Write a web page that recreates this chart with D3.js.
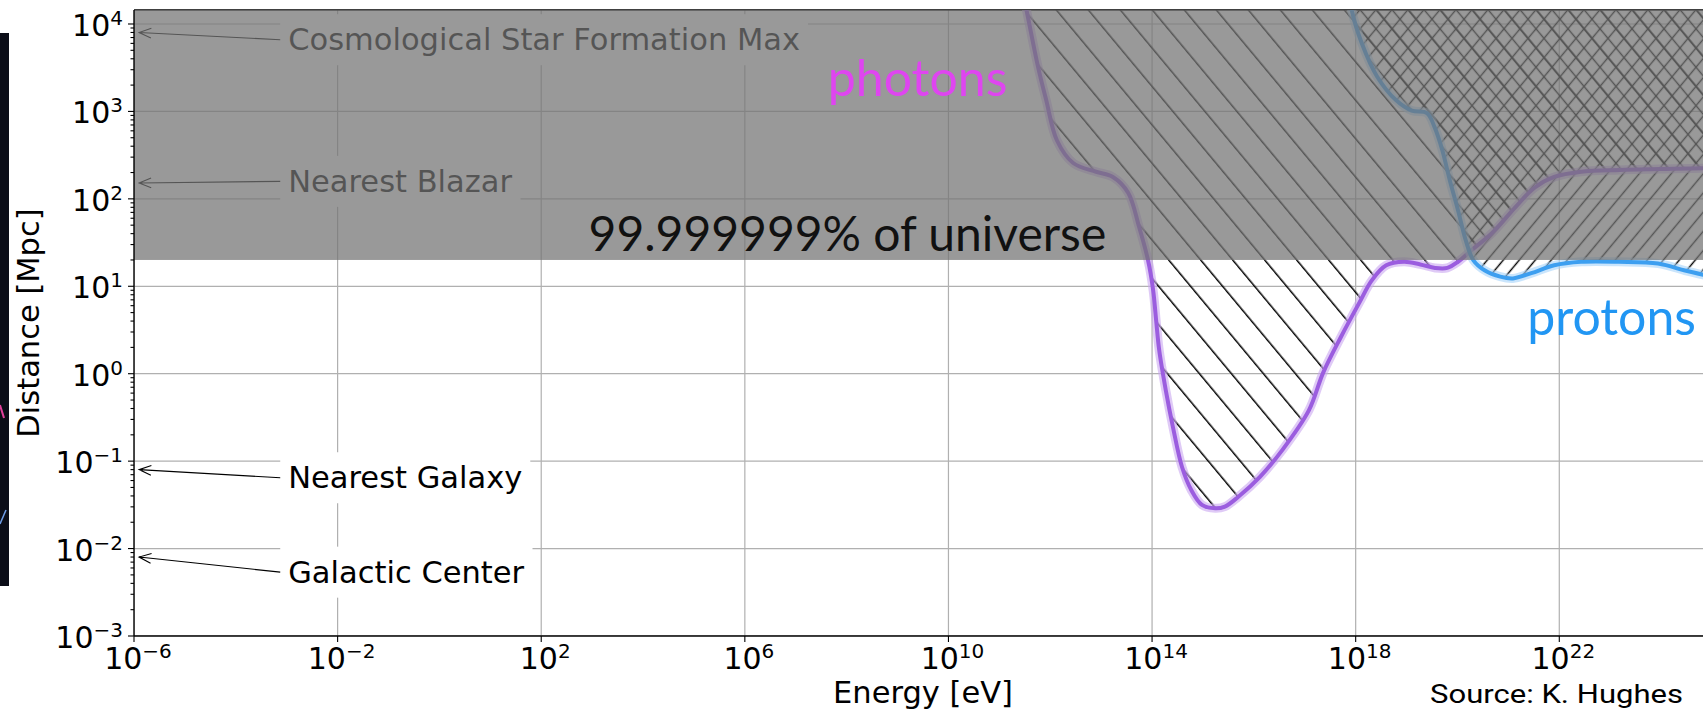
<!DOCTYPE html>
<html>
<head>
<meta charset="utf-8">
<script src="https://d3js.org/d3.v7.min.js"></script>
<style>
  body { margin: 0; background: #fff; }
  svg { display: block; }
  .mpl { font-family: "DejaVu Sans", sans-serif; }
  .slide { font-family: Lato, "Open Sans", sans-serif; }
</style>
</head>
<body>
<svg id="chart" width="1703" height="712"></svg>
<script>
// tick positions, as powers of ten
var xTickExp = [-6, -2, 2, 6, 10, 14, 18, 22, 26];
var yTickExp = [-3, -2, -1, 0, 1, 2, 3, 4];

// photon horizon: log10(E / eV) and log10(D / Mpc)
var photonLogE = [11.41, 11.54, 11.76, 11.92, 12.13, 12.45, 12.90, 13.23, 13.53, 13.74, 13.92, 14.02, 14.08, 14.14,
                  14.27, 14.41, 14.59, 14.77, 14.98, 15.24, 15.43, 15.69, 16.12, 16.55, 17.08, 17.36, 17.71, 18.07,
                  18.32, 18.60, 18.95, 19.27, 19.56, 19.80, 20.01, 20.27, 20.68, 21.13, 21.52, 21.90, 22.43, 23.19,
                  23.98, 24.83, 25.50];
var photonLogD = [4.50, 4.14, 3.51, 3.13, 2.67, 2.41, 2.31, 2.25, 2.07, 1.69, 1.30, 0.96, 0.61, 0.27,
                  -0.19, -0.61, -1.07, -1.33, -1.50, -1.54, -1.52, -1.41, -1.18, -0.88, -0.42, 0.01, 0.42, 0.81,
                  1.07, 1.24, 1.28, 1.25, 1.21, 1.21, 1.28, 1.41, 1.61, 1.90, 2.13, 2.25, 2.31, 2.33,
                  2.34, 2.35, 2.35];

// proton horizon
var protonLogE = [17.85, 17.93, 18.12, 18.42, 18.79, 19.10, 19.40, 19.55, 19.70, 19.85, 20.01, 20.16, 20.31, 20.54,
                  20.84, 21.09, 21.45, 21.90, 22.43, 23.17, 23.94, 24.47, 24.83, 25.50];
var protonLogD = [4.50, 4.14, 3.78, 3.40, 3.13, 3.01, 2.98, 2.82, 2.56, 2.21, 1.87, 1.53, 1.30, 1.18,
                  1.11, 1.09, 1.15, 1.24, 1.28, 1.28, 1.26, 1.18, 1.13, 1.01];

// shaded part of the universe starts here (Mpc)
var bandMinDistance = 20;

// reference distances marked with arrows
var markLabels = ["Cosmological Star Formation Max", "Nearest Blazar", "Nearest Galaxy", "Galactic Center"];
var markDistance = [8000, 152, 0.08, 0.008];
var markTextLogD = [3.70, 2.08, -1.31, -2.39];
var markTextLogE = -2.97;
var markArrowLogE = -5.9;

var svg = d3.select("#chart");
var defs = svg.append("defs");

var x = d3.scaleLog().domain([1e-6, 1e25]).range([134, 1712]);
var y = d3.scaleLog().domain([1e-3, Math.pow(10, 4.16)]).range([636, 10]);
var plotL = x.range()[0], plotR = x.range()[1];
var plotT = y.range()[1], plotB = y.range()[0];

function pts(le, ld) {
    return le.map(function(e, i) { return {e: Math.pow(10, e), d: Math.pow(10, ld[i])}; });
}
var photons = pts(photonLogE, photonLogD);
var protons = pts(protonLogE, protonLogD);

// strip of the neighbouring slide image at the far left
svg.append("rect").attr("x", 0).attr("y", 33).attr("width", 9).attr("height", 553).attr("fill", "#0b0d18");
svg.append("line").attr("x1", 0).attr("x2", 4).attr("y1", 405).attr("y2", 418)
    .attr("stroke", "#e0409a").attr("stroke-width", 2);
svg.append("line").attr("x1", 0).attr("x2", 6).attr("y1", 524).attr("y2", 510)
    .attr("stroke", "#6f9ee8").attr("stroke-width", 1.5);

defs.append("clipPath").attr("id", "plotClip")
    .append("rect").attr("x", plotL).attr("y", plotT).attr("width", plotR - plotL).attr("height", plotB - plotT);

// grid
var grid = svg.append("g").attr("clip-path", "url(#plotClip)")
    .attr("stroke", "#b0b0b0").attr("stroke-width", 1.2);
xTickExp.forEach(function(e) {
    grid.append("line").attr("x1", x(Math.pow(10, e))).attr("x2", x(Math.pow(10, e)))
        .attr("y1", plotT).attr("y2", plotB);
});
yTickExp.forEach(function(e) {
    grid.append("line").attr("x1", plotL).attr("x2", plotR)
        .attr("y1", y(Math.pow(10, e))).attr("y2", y(Math.pow(10, e)));
});

// top spine sits under the shaded band
svg.append("line").attr("x1", plotL).attr("x2", plotR).attr("y1", plotT).attr("y2", plotT)
    .attr("stroke", "#000").attr("stroke-width", 1.3);

// annotations with white boxes and arrows
markLabels.forEach(function(label, i) {
    var g = svg.append("g");
    var t = g.append("text").attr("class", "mpl")
        .attr("x", x(Math.pow(10, markTextLogE))).attr("y", y(Math.pow(10, markTextLogD[i])))
        .attr("font-size", 30.5).attr("fill", "#000").text(label);
    var b = t.node().getBBox();
    var pad = 8;
    g.insert("rect", "text").attr("x", b.x - pad).attr("y", b.y - pad)
        .attr("width", b.width + 2 * pad).attr("height", b.height + 2 * pad).attr("fill", "#fff");
    var x0 = b.x - pad, y0 = b.y + b.height / 2;
    var x1 = x(Math.pow(10, markArrowLogE)), y1 = y(markDistance[i]);
    var len = Math.hypot(x0 - x1, y0 - y1), ux = (x0 - x1) / len, uy = (y0 - y1) / len;
    var a = 22 * Math.PI / 180, h = 13;
    function rot(s) {
        return [x1 + h * (ux * Math.cos(s * a) - uy * Math.sin(s * a)),
                y1 + h * (ux * Math.sin(s * a) + uy * Math.cos(s * a))];
    }
    var p1 = rot(1), p2 = rot(-1);
    g.append("path")
        .attr("d", "M" + x0 + "," + y0 + "L" + x1 + "," + y1 +
                   "M" + p1[0] + "," + p1[1] + "L" + x1 + "," + y1 + "L" + p2[0] + "," + p2[1])
        .attr("fill", "none").attr("stroke", "#000").attr("stroke-width", 1.1);
});

// hatch patterns: rotated horizontal lines
var slope = Math.atan(1.2) * 180 / Math.PI;
var hSpace = 32;
var perp = hSpace * Math.sin(Math.atan(1.2));
function hatch(id, spacing, angle) {
    var p = defs.append("pattern").attr("id", id).attr("patternUnits", "userSpaceOnUse")
        .attr("width", 40).attr("height", spacing)
        .attr("patternTransform", "rotate(" + angle + ")");
    p.append("line").attr("x1", -1).attr("x2", 41)
        .attr("y1", perp / 4).attr("y2", perp / 4)
        .attr("stroke", "#000").attr("stroke-width", 1.4);
}
hatch("backSparse", perp, slope);
hatch("backDense", perp / 2, slope);
hatch("fwdDense", perp / 2, -slope);

var curve = d3.curveCatmullRom.alpha(0.5);
var aboveArea = d3.area().x(function(d) { return x(d.e); })
    .y0(y(1e7)).y1(function(d) { return y(d.d); }).curve(curve);
var lineGen = d3.line().x(function(d) { return x(d.e); })
    .y(function(d) { return y(d.d); }).curve(curve);

defs.append("clipPath").attr("id", "photonClip").append("path").attr("d", aboveArea(photons));

var hatchG = svg.append("g").attr("clip-path", "url(#plotClip)");
hatchG.append("path").attr("d", aboveArea(photons)).attr("fill", "url(#backSparse)");
hatchG.append("path").attr("d", aboveArea(protons)).attr("fill", "url(#fwdDense)");
hatchG.append("g").attr("clip-path", "url(#photonClip)")
    .append("path").attr("d", aboveArea(protons)).attr("fill", "url(#backDense)");

// horizon curves
var curveG = svg.append("g").attr("clip-path", "url(#plotClip)").attr("fill", "none")
    .attr("stroke-linejoin", "round").attr("stroke-linecap", "round");
curveG.append("path").attr("d", lineGen(photons)).attr("stroke", "#c9a6f0").attr("stroke-width", 9).attr("opacity", 0.6);
curveG.append("path").attr("d", lineGen(photons)).attr("stroke", "#9b5ddf").attr("stroke-width", 4);
curveG.append("path").attr("d", lineGen(protons)).attr("stroke", "#a6d3fa").attr("stroke-width", 9).attr("opacity", 0.6);
curveG.append("path").attr("d", lineGen(protons)).attr("stroke", "#3d9ff0").attr("stroke-width", 4);

// grey band over the bulk of the universe
svg.append("rect").attr("x", plotL).attr("y", plotT)
    .attr("width", plotR - plotL).attr("height", y(bandMinDistance) - plotT)
    .attr("fill", "#747474").attr("opacity", 0.733);

// spines
svg.append("line").attr("x1", plotL).attr("x2", plotL).attr("y1", plotT).attr("y2", plotB)
    .attr("stroke", "#000").attr("stroke-width", 1.4);
svg.append("line").attr("x1", plotL).attr("x2", plotR).attr("y1", plotB).attr("y2", plotB)
    .attr("stroke", "#000").attr("stroke-width", 1.4);

// ticks
var ticks = svg.append("g").attr("stroke", "#000").attr("stroke-width", 1.1);
y.ticks().forEach(function(v) {
    var major = Math.abs(Math.log10(v) - Math.round(Math.log10(v))) < 1e-9;
    ticks.append("line").attr("x1", plotL - (major ? 6 : 3.5)).attr("x2", plotL)
        .attr("y1", y(v)).attr("y2", y(v));
});
xTickExp.forEach(function(e) {
    ticks.append("line").attr("x1", x(Math.pow(10, e))).attr("x2", x(Math.pow(10, e)))
        .attr("y1", plotB).attr("y2", plotB + 6);
});

function expText(e) { return e < 0 ? "\u2212" + Math.abs(e) : String(e); }
function powLabel(sel, e) {
    sel.append("tspan").text("10");
    sel.append("tspan").attr("font-size", 20).attr("dy", -11).text(expText(e));
}
yTickExp.forEach(function(e) {
    var t = svg.append("text").attr("class", "mpl").attr("font-size", 30)
        .attr("x", plotL - 11).attr("y", y(Math.pow(10, e)) + 12).attr("text-anchor", "end");
    powLabel(t, e);
});
xTickExp.filter(function(e) { return x(Math.pow(10, e)) < 1703; }).forEach(function(e) {
    var t = svg.append("text").attr("class", "mpl").attr("font-size", 30)
        .attr("x", x(Math.pow(10, e)) + 4).attr("y", plotB + 33).attr("text-anchor", "middle");
    powLabel(t, e);
});

// axis titles
svg.append("text").attr("class", "mpl").attr("font-size", 30.5)
    .attr("x", (plotL + plotR) / 2).attr("y", 703).attr("text-anchor", "middle").text("Energy [eV]");
svg.append("text").attr("class", "mpl").attr("font-size", 30.5).attr("text-anchor", "middle")
    .attr("transform", "translate(39," + (plotT + plotB) / 2 + ") rotate(-90)").text("Distance [Mpc]");

// slide overlay texts
svg.append("text").attr("class", "slide").attr("font-size", 50).attr("fill", "#df45f0")
    .attr("x", x(Math.pow(10, 7.63))).attr("y", y(Math.pow(10, 3.175))).text("photons");
svg.append("text").attr("class", "slide").attr("font-size", 50).attr("fill", "#2196f3")
    .attr("x", x(Math.pow(10, 21.37))).attr("y", y(Math.pow(10, 0.44))).text("protons");
svg.append("text").attr("class", "slide").attr("font-size", 48).attr("fill", "#111")
    .attr("x", x(Math.pow(10, 2.93))).attr("y", y(bandMinDistance) - 9).text("99.999999% of universe");
svg.append("text").attr("font-family", "Roboto, sans-serif").attr("font-size", 26).attr("fill", "#000")
    .attr("x", 1430).attr("y", 703).attr("textLength", 253).attr("lengthAdjust", "spacingAndGlyphs")
    .text("Source: K. Hughes");
</script>
</body>
</html>
